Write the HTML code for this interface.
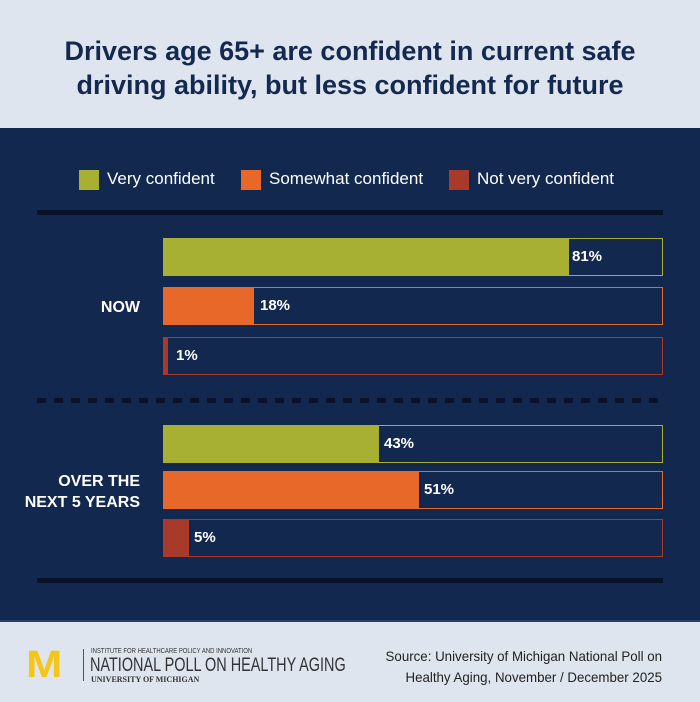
<!DOCTYPE html>
<html><head><style>
body{margin:0;width:700px;height:700px;overflow:hidden;font-family:"Liberation Sans",sans-serif;background:#dfe5ee;position:relative}
.hdr{position:absolute;top:0;left:0;width:700px;height:128px;background:#dfe5ee;text-align:center;color:#14294f;font-weight:bold;font-size:27px;line-height:34px;padding-top:34px;box-sizing:border-box}
.main{position:absolute;top:128px;left:0;width:700px;height:492px;background:#13284f}
.ftr{position:absolute;top:620px;left:0;width:700px;height:80px;background:#dfe5ee;border-top:2px solid #2a3f66}
.abs{position:absolute}
.bar{position:absolute;left:163px;width:500px;height:38px;box-sizing:border-box;border:1.5px solid}
.fill{position:absolute;left:0;top:0;height:100%}
.pct{position:absolute;color:#fff;font-weight:bold;font-size:15px;top:9px}
.lbl{position:absolute;color:#fff;font-weight:bold;font-size:15px;text-align:right}
.leg{position:absolute;top:170px;width:20px;height:20px}
.legt{position:absolute;top:169px;color:#fff;font-size:17px}
</style></head><body>
<div class="hdr">Drivers age 65+ are confident in current safe<br>driving ability, but less confident for future</div>
<div class="main"></div>
<div class="leg" style="left:79px;background:#a8b033"></div><div class="legt" style="left:107px">Very confident</div>
<div class="leg" style="left:241px;background:#e8682a"></div><div class="legt" style="left:269px">Somewhat confident</div>
<div class="leg" style="left:449px;background:#a83a2a"></div><div class="legt" style="left:477px">Not very confident</div>
<div class="abs" style="left:37px;top:210px;width:626px;height:5px;background:#08132b"></div>
<div class="abs" style="left:37px;top:398px;width:626px;height:5px;background:repeating-linear-gradient(90deg,#08132b 0 9px,transparent 9px 17px)"></div>
<div class="abs" style="left:37px;top:578px;width:626px;height:5px;background:#08132b"></div>

<div class="bar" style="top:238px;border-color:#a8b033"><div class="fill" style="width:405px;background:#a8b033"></div><div class="pct" style="left:408px">81%</div></div>
<div class="bar" style="top:287px;border-color:#e8682a"><div class="fill" style="width:90px;background:#e8682a"></div><div class="pct" style="left:96px">18%</div></div>
<div class="bar" style="top:337px;border-color:#a83a2a"><div class="fill" style="width:4px;background:#a83a2a"></div><div class="pct" style="left:12px">1%</div></div>
<div class="lbl" style="left:40px;width:100px;top:299px;font-size:16px">NOW</div>

<div class="bar" style="top:425px;border-color:#a8b033"><div class="fill" style="width:215px;background:#a8b033"></div><div class="pct" style="left:220px">43%</div></div>
<div class="bar" style="top:471px;border-color:#e8682a"><div class="fill" style="width:255px;background:#e8682a"></div><div class="pct" style="left:260px">51%</div></div>
<div class="bar" style="top:519px;border-color:#a83a2a"><div class="fill" style="width:25px;background:#a83a2a"></div><div class="pct" style="left:30px">5%</div></div>
<div class="lbl" style="left:0px;width:140px;top:471px;line-height:21px;font-size:16px">OVER THE<br>NEXT 5 YEARS</div>

<div class="ftr"></div>
<div class="abs" style="left:26px;top:646px;color:#f5c518;font-weight:900;font-size:38px;line-height:38px;transform:scaleX(1.15);transform-origin:left">M</div>
<div class="abs" style="left:83px;top:649px;width:1px;height:32px;background:#555"></div>
<div class="abs" style="left:91px;top:648px;font-size:7px;color:#333;transform:scaleX(0.85);transform-origin:left">INSTITUTE FOR HEALTHCARE POLICY AND INNOVATION</div>
<div class="abs" style="left:90px;top:655px;font-size:19px;color:#333;transform:scaleX(0.76);transform-origin:left">NATIONAL POLL ON HEALTHY AGING</div>
<div class="abs" style="left:91px;top:675px;font-size:8px;font-weight:bold;color:#333;font-family:'Liberation Serif',serif">UNIVERSITY OF MICHIGAN</div>
<div class="abs" style="right:38px;top:646px;font-size:14px;color:#222;text-align:right;line-height:21px;transform:scaleX(0.95);transform-origin:right">Source: University of Michigan National Poll on<br>Healthy Aging, November / December 2025</div>
</body></html>
